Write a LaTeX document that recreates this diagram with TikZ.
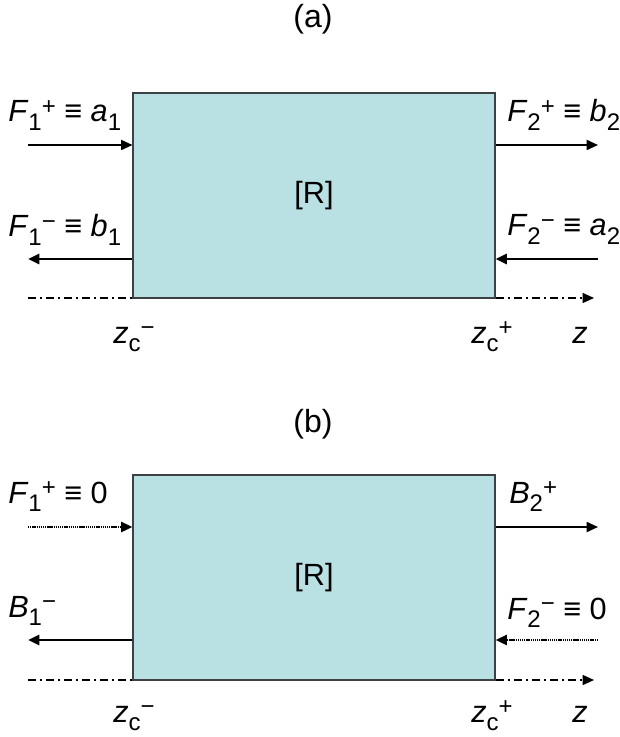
\documentclass[tikz,border=0pt]{standalone}
\usepackage{fontspec}
\setmainfont{Liberation Sans}
\usetikzlibrary{arrows.meta, positioning}
\definecolor{boxfill}{RGB}{185,225,227}
\definecolor{boxedge}{RGB}{60,66,68}
% sub- and superscripts as drawn in the figure
\newcommand{\lo}[1]{\raisebox{-0.28em}{\fontsize{18}{18}\selectfont #1}}
\newcommand{\hi}[1]{\raisebox{0.25em}{\fontsize{18}{18}\selectfont #1}}

\begin{document}
\begin{tikzpicture}[x=0.75pt, y=-0.75pt,
    lbl/.style={font=\fontsize{23}{27}\selectfont, inner sep=0pt, anchor=base west},
    ttl/.style={font=\fontsize{24}{28}\selectfont, inner sep=0pt},
    block/.style={draw=boxedge, fill=boxfill, line width=0.8pt, inner sep=0pt,
        minimum width=271.5pt, minimum height=153.75pt, font=\fontsize{23}{27}\selectfont},
    wave/.style={-{Triangle[length=8.5pt,width=7.5pt]}, line width=1.3pt},
    wavebold/.style={wave, line width=2.1pt},
    wavenull/.style={wave, line width=1.8pt, dash pattern=on 1pt off 0.6pt},
    axisline/.style={-{Triangle[length=8.5pt,width=7.5pt]}, line width=1.1pt,
        dash pattern=on 6pt off 3pt on 1.5pt off 3pt}]
    \useasboundingbox (0,0) rectangle (619,737);

    % (a) full scattering problem
    \node[ttl] (ta) at (313,19) {(a)};
    \coordinate (axa0) at (28,298);
    \coordinate (axa1) at (594,298);
    \draw[axisline] (axa0) -- (axa1);
    \node[block] (Ra) at (314,195.5) {[R]};

    \coordinate (a1in) at (28,145);
    \coordinate (a1out) at (28,259);
    \coordinate (a2out) at (598,145);
    \coordinate (a2in) at (598,259);
    \draw[wave] (a1in) -- (a1in -| Ra.west);
    \draw[wavebold] (a1out -| Ra.west) -- (a1out);
    \draw[wave] (a2out -| Ra.east) -- (a2out);
    \draw[wavebold] (a2in) -- (a2in -| Ra.east);

    \node[lbl] (la1p) at (8,122) {\textit{F}\lo{1}\hi{+} ≡ \textit{a}\lo{1}};
    \node[lbl] (la1m) at (8,237) {\textit{F}\lo{1}\hi{−} ≡ \textit{b}\lo{1}};
    \node[lbl] (la2p) at (507,122) {\textit{F}\lo{2}\hi{+} ≡ \textit{b}\lo{2}};
    \node[lbl] (la2m) at (507,236) {\textit{F}\lo{2}\hi{−} ≡ \textit{a}\lo{2}};

    \node[lbl] (zam) at (113,343) {\textit{z}\lo{c}\hi{−}};
    \node[lbl] (zap) at (471,343) {\textit{z}\lo{c}\hi{+}};
    \node[lbl] (za) at (572,343) {\textit{z}};

    % (b) single-port excitation
    \node[ttl] (tb) at (313,424) {(b)};
    \coordinate (axb0) at (28,680);
    \coordinate (axb1) at (594,680);
    \draw[axisline] (axb0) -- (axb1);
    \node[block] (Rb) at (314,577.5) {[R]};

    \coordinate (b1in) at (28,527);
    \coordinate (b1out) at (28,640);
    \coordinate (b2out) at (598,527);
    \coordinate (b2in) at (598,640);
    \draw[wavenull] (b1in) -- (b1in -| Rb.west);
    \draw[wavebold] (b1out -| Rb.west) -- (b1out);
    \draw[wave] (b2out -| Rb.east) -- (b2out);
    \draw[wavenull] (b2in) -- (b2in -| Rb.east);

    \node[lbl] (lb1p) at (8,503) {\textit{F}\lo{1}\hi{+} ≡ 0};
    \node[lbl] (lb1m) at (8,617) {\textit{B}\lo{1}\hi{−}};
    \node[lbl] (lb2p) at (509,503) {\textit{B}\lo{2}\hi{+}};
    \node[lbl] (lb2m) at (507,619) {\textit{F}\lo{2}\hi{−} ≡ 0};

    \node[lbl] (zbm) at (113,722) {\textit{z}\lo{c}\hi{−}};
    \node[lbl] (zbp) at (471,722) {\textit{z}\lo{c}\hi{+}};
    \node[lbl] (zb) at (572,722) {\textit{z}};
\end{tikzpicture}
\end{document}
